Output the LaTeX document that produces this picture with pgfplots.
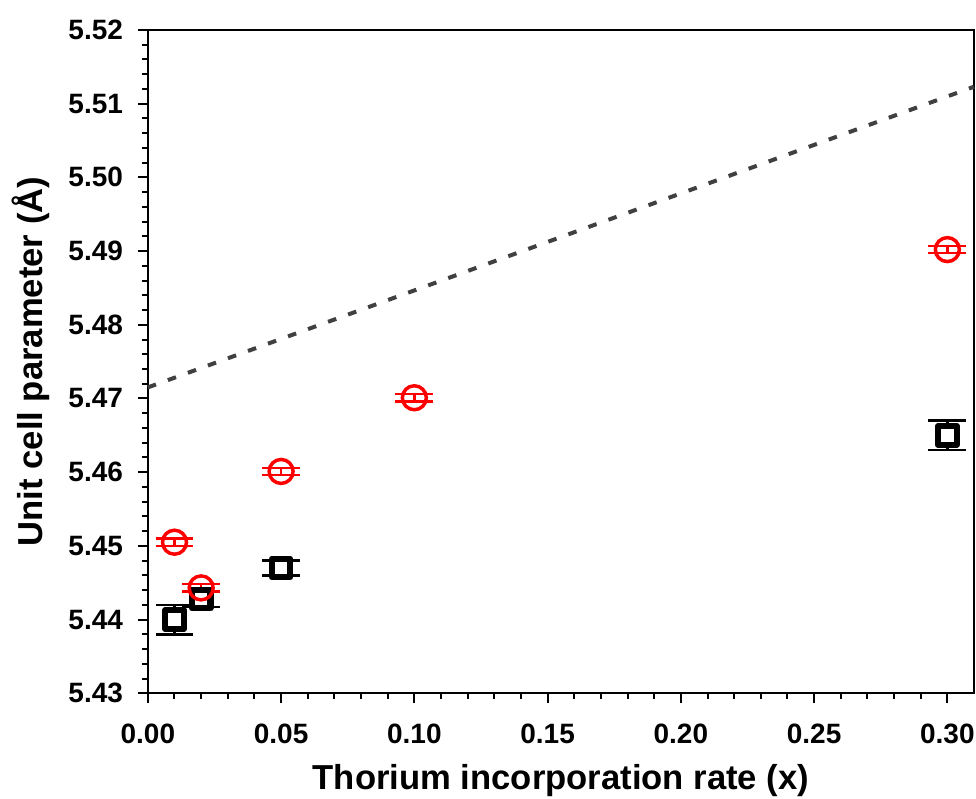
\documentclass[border=0pt]{standalone}
\usepackage{pgfplots}
\pgfplotsset{compat=1.18}
\usepackage{fontspec}
\setmainfont{Liberation Sans}

\definecolor{fitgray}{RGB}{64,64,64}

\begin{document}
\begin{tikzpicture}
\begin{axis}[
    scale only axis,
    width=620.25pt, height=498pt,
    xmin=0, xmax=0.31,
    ymin=5.43, ymax=5.52,
    xtick={0,0.05,0.10,0.15,0.20,0.25,0.30},
    ytick={5.43,5.44,5.45,5.46,5.47,5.48,5.49,5.50,5.51,5.52},
    minor x tick num=4, minor y tick num=4,
    xtick pos=bottom, ytick pos=left,
    tick align=outside,
    major tick length=7.5pt, minor tick length=4.5pt,
    every tick/.style={black, line width=1.5pt},
    axis line style={line width=1.5pt},
    /pgf/number format/assume math mode=true,
    ticklabel style={font=\fontsize{21}{23}\selectfont\bfseries, inner sep=1pt},
    xticklabel style={yshift=-14pt, /pgf/number format/.cd, fixed, fixed zerofill, precision=2},
    yticklabel style={xshift=-10pt, /pgf/number format/.cd, fixed, fixed zerofill, precision=2},
    xlabel={Thorium incorporation rate (x)},
    ylabel={Unit cell parameter (Å)},
    label style={font=\fontsize{26}{28}\selectfont\bfseries, inner sep=0pt},
    xlabel style={at={(axis description cs:0.5,0)}, anchor=base, yshift=-72.5pt},
    ylabel style={at={(axis description cs:0,0.5)}, anchor=base, yshift=78.75pt},
    clip=false,
]
% linear reference
\addplot[fitgray, line width=3pt, dash pattern=on 6.5pt off 9.5pt, forget plot]
    coordinates {(0,5.4715) (0.31,5.5123)};

% black squares
\addplot[black, only marks, mark=square*, mark size=7pt,
    mark options={line width=4.6pt, line join=round, fill=white},
    error bars/.cd, y dir=both, y explicit,
    error bar style={line width=1.8pt, black},
    error mark options={rotate=90, mark size=14.25pt, line width=1.8pt, black}]
    coordinates {
    (0.01,5.4400) +- (0,0.0020)
    (0.02,5.4428) +- (0,0.0011)
    (0.05,5.4470) +- (0,0.0010)
    (0.30,5.4650) +- (0,0.0020)
    };

% red circles
\addplot[red, only marks, mark=o, mark size=9pt,
    mark options={line width=2.6pt},
    error bars/.cd, y dir=both, y explicit,
    error bar style={line width=1.8pt, red},
    error mark options={rotate=90, mark size=14.25pt, line width=1.8pt, red}]
    coordinates {
    (0.01,5.4505) +- (0,0.0005)
    (0.02,5.4443) +- (0,0.0005)
    (0.05,5.4601) +- (0,0.0005)
    (0.10,5.4701) +- (0,0.0005)
    (0.30,5.4902) +- (0,0.0005)
    };
\end{axis}
\path (current axis.south west) ++(-111pt,-78.75pt);
\path (current axis.north east) ++(1pt,22.5pt);
\end{tikzpicture}
\end{document}
